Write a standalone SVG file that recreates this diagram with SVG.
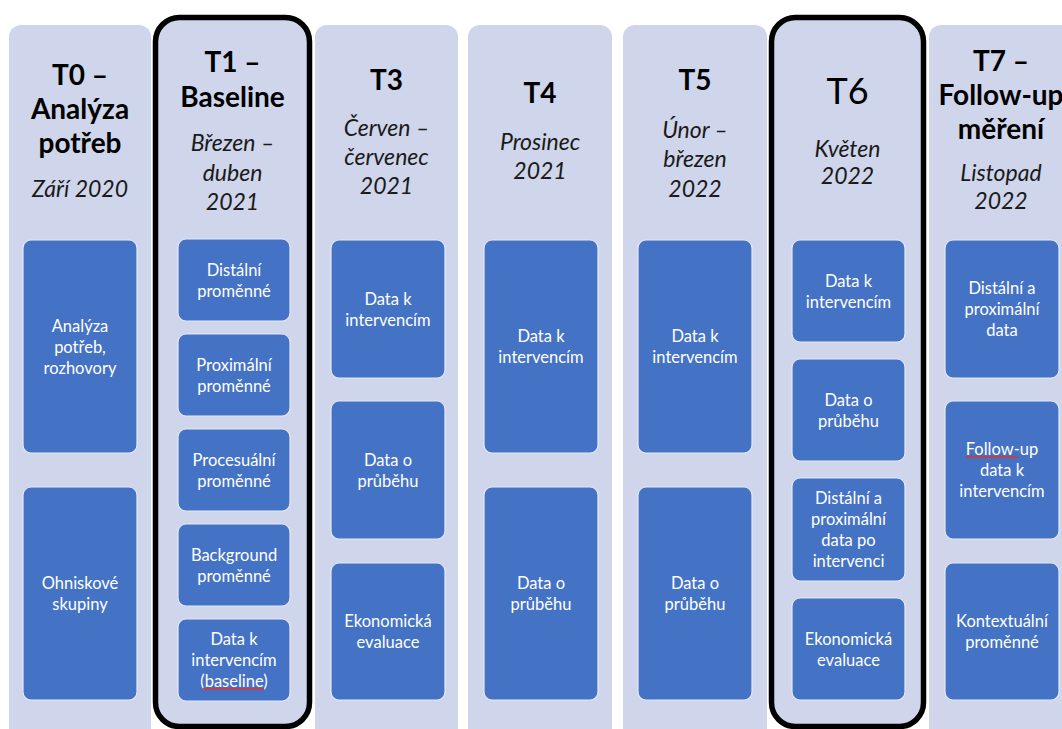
<svg xmlns="http://www.w3.org/2000/svg" width="1062" height="729" viewBox="0 0 1062 729">
<style>
.col{fill:#CFD5EA}
.hl{fill:#CFD5EA;stroke:#000;stroke-width:5.5}
.box{fill:#4472C4;stroke:#E6EAF4;stroke-width:1.2}
.h{font-family:Lato,"Liberation Sans",sans-serif;font-weight:bold;font-size:28px;fill:#000;text-anchor:middle}
.h6{font-family:Lato,"Liberation Sans",sans-serif;font-size:36px;fill:#000;text-anchor:middle}
.d{font-family:Lato,"Liberation Sans",sans-serif;font-style:italic;font-size:23px;fill:#1a1a1a;text-anchor:middle}
.t{font-family:Lato,"Liberation Sans",sans-serif;font-size:16.5px;fill:#fff;text-anchor:middle}
.sq{fill:none;stroke:#E03030;stroke-width:1.2}
</style>
<rect width="1062" height="729" fill="#fff"/>

<g id="col-T0">
<rect class="col" x="9" y="25" width="142" height="720" rx="12"/>
<text class="h" x="80" y="85">T0 –</text>
<text class="h" x="80" y="119">Analýza</text>
<text class="h" x="80" y="153">potřeb</text>
<text class="d" x="80" y="197">Září 2020</text>
<g id="t0-b1"><rect class="box" x="23" y="240" width="114" height="213" rx="8"/>
<text class="t" x="80" y="331.5">Analýza</text><text class="t" x="80" y="352.5">potřeb,</text><text class="t" x="80" y="373.5">rozhovory</text></g>
<g id="t0-b2"><rect class="box" x="23" y="487" width="114" height="213" rx="8"/>
<text class="t" x="80" y="589">Ohniskové</text><text class="t" x="80" y="610">skupiny</text></g>
</g>

<g id="col-T1">
<rect class="hl" x="155.5" y="17.5" width="154" height="709" rx="24"/>
<text class="h" x="232.5" y="72">T1 –</text>
<text class="h" x="232.5" y="107">Baseline</text>
<text class="d" x="232.5" y="151">Březen –</text>
<text class="d" x="232.5" y="181">duben</text>
<text class="d" x="232.5" y="210">2021</text>
<g id="t1-b1"><rect class="box" x="178" y="239" width="112" height="82" rx="8"/>
<text class="t" x="234" y="275.5">Distální</text><text class="t" x="234" y="296.5">proměnné</text></g>
<g id="t1-b2"><rect class="box" x="178" y="334" width="112" height="82" rx="8"/>
<text class="t" x="234" y="370.5">Proximální</text><text class="t" x="234" y="391.5">proměnné</text></g>
<g id="t1-b3"><rect class="box" x="178" y="429" width="112" height="82" rx="8"/>
<text class="t" x="234" y="465.5">Procesuální</text><text class="t" x="234" y="486.5">proměnné</text></g>
<g id="t1-b4"><rect class="box" x="178" y="524" width="112" height="82" rx="8"/>
<text class="t" x="234" y="560.5">Background</text><text class="t" x="234" y="581.5">proměnné</text></g>
<g id="t1-b5"><rect class="box" x="178" y="619" width="112" height="82" rx="8"/>
<text class="t" x="234" y="645">Data k</text><text class="t" x="234" y="666">intervencím</text><text class="t" x="234" y="687">(baseline)</text>
<path class="sq" d="M202 690 l2 -2 l2 2 l2 -2 l2 2 l2 -2 l2 2 l2 -2 l2 2 l2 -2 l2 2 l2 -2 l2 2 l2 -2 l2 2 l2 -2 l2 2 l2 -2 l2 2 l2 -2 l2 2 l2 -2 l2 2 l2 -2 l2 2 l2 -2 l2 2 l2 -2 l2 2 l2 -2 l2 2 l2 -2"/></g>
</g>

<g id="col-T3">
<rect class="col" x="315" y="25" width="143" height="720" rx="12"/>
<text class="h" x="386.5" y="90">T3</text>
<text class="d" x="386.5" y="136">Červen –</text>
<text class="d" x="386.5" y="165">červenec</text>
<text class="d" x="386.5" y="194">2021</text>
<g id="t3-b1"><rect class="box" x="331" y="240" width="114" height="138" rx="8"/>
<text class="t" x="388" y="304.5">Data k</text><text class="t" x="388" y="325.5">intervencím</text></g>
<g id="t3-b2"><rect class="box" x="331" y="401" width="114" height="138" rx="8"/>
<text class="t" x="388" y="465.5">Data o</text><text class="t" x="388" y="486.5">průběhu</text></g>
<g id="t3-b3"><rect class="box" x="331" y="563" width="114" height="137" rx="8"/>
<text class="t" x="388" y="627">Ekonomická</text><text class="t" x="388" y="648">evaluace</text></g>
</g>

<g id="col-T4">
<rect class="col" x="468" y="25" width="144" height="720" rx="12"/>
<text class="h" x="540" y="103">T4</text>
<text class="d" x="540" y="150">Prosinec</text>
<text class="d" x="540" y="179">2021</text>
<g id="t4-b1"><rect class="box" x="484" y="240" width="114" height="213" rx="8"/>
<text class="t" x="541" y="342">Data k</text><text class="t" x="541" y="363">intervencím</text></g>
<g id="t4-b2"><rect class="box" x="484" y="487" width="114" height="213" rx="8"/>
<text class="t" x="541" y="589">Data o</text><text class="t" x="541" y="610">průběhu</text></g>
</g>

<g id="col-T5">
<rect class="col" x="623" y="25" width="144" height="720" rx="12"/>
<text class="h" x="695" y="90">T5</text>
<text class="d" x="695" y="138">Únor –</text>
<text class="d" x="695" y="167">březen</text>
<text class="d" x="695" y="197">2022</text>
<g id="t5-b1"><rect class="box" x="638" y="240" width="114" height="213" rx="8"/>
<text class="t" x="695" y="342">Data k</text><text class="t" x="695" y="363">intervencím</text></g>
<g id="t5-b2"><rect class="box" x="638" y="487" width="114" height="213" rx="8"/>
<text class="t" x="695" y="589">Data o</text><text class="t" x="695" y="610">průběhu</text></g>
</g>

<g id="col-T6">
<rect class="hl" x="771.5" y="17.5" width="152" height="709" rx="24"/>
<text class="h6" x="847.5" y="104">T6</text>
<text class="d" x="847.5" y="157">Květen</text>
<text class="d" x="847.5" y="184">2022</text>
<g id="t6-b1"><rect class="box" x="792" y="240" width="113" height="102" rx="8"/>
<text class="t" x="848.5" y="286.5">Data k</text><text class="t" x="848.5" y="307.5">intervencím</text></g>
<g id="t6-b2"><rect class="box" x="792" y="359" width="113" height="102" rx="8"/>
<text class="t" x="848.5" y="405.5">Data o</text><text class="t" x="848.5" y="426.5">průběhu</text></g>
<g id="t6-b3"><rect class="box" x="792" y="478" width="113" height="103" rx="8"/>
<text class="t" x="848.5" y="503.5">Distální a</text><text class="t" x="848.5" y="524.5">proximální</text><text class="t" x="848.5" y="545.5">data po</text><text class="t" x="848.5" y="566.5">intervenci</text></g>
<g id="t6-b4"><rect class="box" x="792" y="598" width="113" height="102" rx="8"/>
<text class="t" x="848.5" y="644.5">Ekonomická</text><text class="t" x="848.5" y="665.5">evaluace</text></g>
</g>

<g id="col-T7">
<rect class="col" x="929" y="25" width="144" height="720" rx="12"/>
<text class="h" x="1001" y="71">T7 –</text>
<text class="h" x="1001" y="105">Follow-up</text>
<text class="h" x="1001" y="139">měření</text>
<text class="d" x="1001" y="181">Listopad</text>
<text class="d" x="1001" y="209">2022</text>
<g id="t7-b1"><rect class="box" x="945" y="240" width="114" height="138" rx="8"/>
<text class="t" x="1002" y="294">Distální a</text><text class="t" x="1002" y="315">proximální</text><text class="t" x="1002" y="336">data</text></g>
<g id="t7-b2"><rect class="box" x="945" y="401" width="114" height="138" rx="8"/>
<text class="t" x="1002" y="455">Follow-up</text><text class="t" x="1002" y="476">data k</text><text class="t" x="1002" y="497">intervencím</text>
<path class="sq" d="M966 458 l2 -2 l2 2 l2 -2 l2 2 l2 -2 l2 2 l2 -2 l2 2 l2 -2 l2 2 l2 -2 l2 2 l2 -2 l2 2 l2 -2 l2 2 l2 -2 l2 2 l2 -2 l2 2 l2 -2 l2 2 l2 -2 l2 2 l2 -2 l2 2"/></g>
<g id="t7-b3"><rect class="box" x="945" y="563" width="114" height="137" rx="8"/>
<text class="t" x="1002" y="627">Kontextuální</text><text class="t" x="1002" y="648">proměnné</text></g>
</g>
</svg>
